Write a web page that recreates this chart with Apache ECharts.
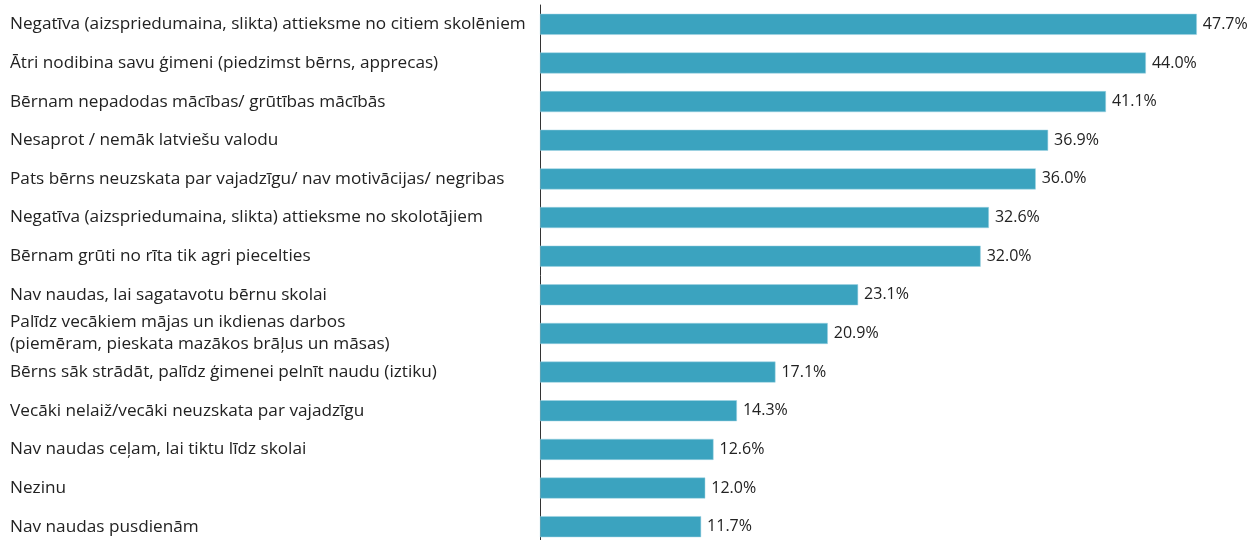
<!DOCTYPE html>
<html><head><meta charset="utf-8">
<script src="https://cdn.jsdelivr.net/npm/echarts@6/dist/echarts.min.js"></script>
<style>html,body{margin:0;padding:0;background:#fff;overflow:hidden}#c{width:1254px;height:560px}</style>
</head><body><div id="c"></div>
<script>
const categories = [
  "Negatīva (aizspriedumaina, slikta) attieksme no citiem skolēniem",
  "Ātri nodibina savu ģimeni (piedzimst bērns, apprecas)",
  "Bērnam nepadodas mācības/ grūtības mācībās",
  "Nesaprot / nemāk latviešu valodu",
  "Pats bērns neuzskata par vajadzīgu/ nav motivācijas/ negribas",
  "Negatīva (aizspriedumaina, slikta) attieksme no skolotājiem",
  "Bērnam grūti no rīta tik agri piecelties",
  "Nav naudas, lai sagatavotu bērnu skolai",
  "Palīdz vecākiem mājas un ikdienas darbos\n(piemēram, pieskata mazākos brāļus un māsas)",
  "Bērns sāk strādāt, palīdz ģimenei pelnīt naudu (iztiku)",
  "Vecāki nelaiž/vecāki neuzskata par vajadzīgu",
  "Nav naudas ceļam, lai tiktu līdz skolai",
  "Nezinu",
  "Nav naudas pusdienām"
];
const values = [47.7, 44.0, 41.1, 36.9, 36.0, 32.6, 32.0, 23.1, 20.9, 17.1, 14.3, 12.6, 12.0, 11.7];

const FONT = 'Open Sans';
const chart = echarts.init(document.getElementById('c'), null, {renderer: 'canvas'});
chart.setOption({
  animation: false,
  grid: {left: 540, width: 688.5, top: 5, height: 541, containLabel: false},
  xAxis: {type: 'value', min: 0, max: 50, show: false},
  yAxis: {
    type: 'category', data: categories, inverse: true,
    axisLine: {show: true, lineStyle: {color: '#333', width: 1}},
    axisTick: {show: false},
    axisLabel: {align: 'left', margin: 530, color: '#222', fontFamily: FONT, fontSize: 17.2, lineHeight: 22}
  },
  series: [{
    type: 'bar', data: values, barWidth: 21,
    itemStyle: {color: '#3BA3BF', borderColor: '#9fd3e3', borderWidth: 0.5},
    label: {show: true, position: 'right', distance: 6, color: '#222', fontFamily: FONT, fontSize: 16,
      formatter: p => p.value.toFixed(1) + '%'}
  }]
});
</script></body></html>
